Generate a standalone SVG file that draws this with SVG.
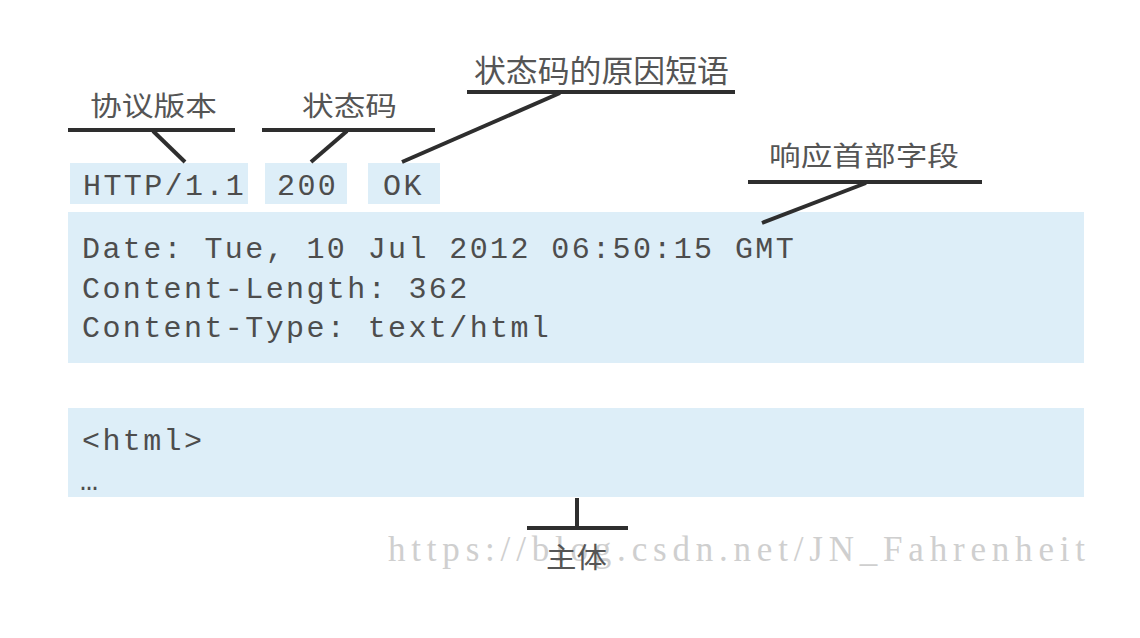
<svg xmlns="http://www.w3.org/2000/svg" width="1140" height="638" viewBox="0 0 1140 638">
  <style>
    .box { fill: #ddeef8; }
    .mono { font-family: "Liberation Mono", "DejaVu Sans Mono", monospace; font-size: 30px; fill: #4d4d4d; letter-spacing: 2.4px; }
    .cjk { font-family: "Noto Sans CJK SC", "Noto Sans", sans-serif; fill: #555; }
    .ln { stroke: #2e2e2e; stroke-width: 4; fill: none; stroke-linecap: butt; }
    .wm { font-family: "Liberation Serif", "DejaVu Serif", serif; font-size: 35px; fill: #c4c4c4; opacity: 0.8; }
  </style>
  <rect width="1140" height="638" fill="#ffffff"/>

  <g id="version">
    <rect class="box" x="70" y="163" width="178" height="41"/>
    <text class="mono" x="83" y="195">HTTP/1.1</text>
  </g>
  <g id="status-code">
    <rect class="box" x="265" y="163" width="82" height="41"/>
    <text class="mono" x="277" y="195">200</text>
  </g>
  <g id="reason">
    <rect class="box" x="368" y="163" width="72" height="41"/>
    <text class="mono" x="383" y="195">OK</text>
  </g>
  <g id="headers">
    <rect class="box" x="68" y="212" width="1016" height="151"/>
    <text class="mono" x="82" y="258">Date: Tue, 10 Jul 2012 06:50:15 GMT</text>
    <text class="mono" x="82" y="298">Content-Length: 362</text>
    <text class="mono" x="82" y="337">Content-Type: text/html</text>
  </g>
  <g id="body">
    <rect class="box" x="68" y="408" width="1016" height="89"/>
    <text class="mono" x="82" y="450">&lt;html&gt;</text>
    <text class="mono" x="80" y="490">…</text>
  </g>

  <g id="label-version">
    <text class="cjk" x="90" y="116" font-size="27" textLength="127" lengthAdjust="spacingAndGlyphs">协议版本</text>
  </g>
  <g id="label-status">
    <text class="cjk" x="302" y="116" font-size="27" textLength="95" lengthAdjust="spacingAndGlyphs">状态码</text>
  </g>
  <g id="label-reason">
    <text class="cjk" x="474" y="82" font-size="31" textLength="255" lengthAdjust="spacingAndGlyphs">状态码的原因短语</text>
  </g>
  <g id="label-headers">
    <text class="cjk" x="769" y="166" font-size="27" textLength="190" lengthAdjust="spacingAndGlyphs">响应首部字段</text>
  </g>

  <g id="connectors">
    <line class="ln" x1="68" y1="130" x2="235" y2="130"/>
    <line class="ln" x1="153" y1="131" x2="185" y2="162"/>
    <line class="ln" x1="262" y1="130" x2="435" y2="130"/>
    <line class="ln" x1="347" y1="131" x2="311" y2="162"/>
    <line class="ln" x1="467" y1="92" x2="735" y2="92"/>
    <line class="ln" x1="560" y1="93" x2="402" y2="162"/>
    <line class="ln" x1="748" y1="182" x2="982" y2="182"/>
    <line class="ln" x1="866" y1="183" x2="762" y2="223"/>
    <line class="ln" x1="577" y1="498" x2="577" y2="528"/>
    <line class="ln" x1="527" y1="528" x2="628" y2="528"/>
  </g>

  <text class="wm" x="388" y="561" textLength="697" lengthAdjust="spacing">https://blog.csdn.net/JN_Fahrenheit</text>

  <g id="label-body">
    <text class="cjk" x="546" y="568" font-size="28" textLength="61" lengthAdjust="spacingAndGlyphs" fill="#444">主体</text>
  </g>
</svg>
